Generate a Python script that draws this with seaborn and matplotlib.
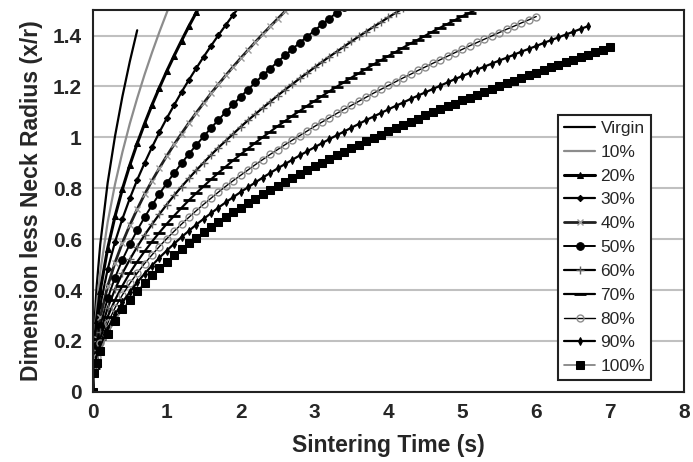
import matplotlib
matplotlib.use("Agg")
import matplotlib.pyplot as plt
import seaborn as sns
import pandas as pd

TIME = [0, 0.02, 0.05, 0.1, 0.2, 0.3, 0.4, 0.5, 0.6, 0.7, 0.8, 0.9, 1.0,
        1.1, 1.2, 1.3, 1.4, 1.5, 1.6, 1.7, 1.8, 1.9, 2.0, 2.1, 2.2, 2.3, 2.4,
        2.5, 2.6, 2.7, 2.8, 2.9, 3.0, 3.1, 3.2, 3.3, 3.4, 3.5, 3.6, 3.7, 3.8,
        3.9, 4.0, 4.1, 4.2, 4.3, 4.4, 4.5, 4.6, 4.7, 4.8, 4.9, 5.0, 5.1, 5.2,
        5.3, 5.4, 5.5, 5.6, 5.7, 5.8, 5.9, 6.0, 6.1, 6.2, 6.3, 6.4, 6.5, 6.6,
        6.7, 6.8, 6.9, 7.0]

virgin = [0, 0.259, 0.410, 0.580, 0.821, 1.005, 1.161, 1.298, 1.421]
p10 = [0, 0.211, 0.333, 0.471, 0.666, 0.816, 0.942, 1.054, 1.154, 1.247,
       1.333, 1.414, 1.490, 1.563]
p20 = [0, 0.178, 0.282, 0.398, 0.563, 0.690, 0.797, 0.891, 0.976, 1.054,
       1.127, 1.195, 1.260, 1.321, 1.380, 1.437, 1.491, 1.543]
p30 = [0, 0.152, 0.240, 0.340, 0.481, 0.589, 0.680, 0.760, 0.833, 0.899,
       0.961, 1.020, 1.075, 1.127, 1.178, 1.226, 1.272, 1.317, 1.360, 1.402,
       1.442, 1.482, 1.520]
p40 = [0, 0.131, 0.207, 0.293, 0.415, 0.508, 0.586, 0.655, 0.718, 0.776,
       0.829, 0.879, 0.927, 0.972, 1.015, 1.057, 1.097, 1.135, 1.173, 1.209,
       1.244, 1.278, 1.311, 1.343, 1.375, 1.406, 1.436, 1.466, 1.495, 1.523]
p50 = [0, 0.116, 0.183, 0.259, 0.367, 0.449, 0.519, 0.580, 0.635, 0.686,
       0.733, 0.778, 0.820, 0.860, 0.898, 0.935, 0.970, 1.004, 1.037, 1.069,
       1.100, 1.130, 1.160, 1.188, 1.216, 1.244, 1.270, 1.297, 1.322, 1.347,
       1.372, 1.396, 1.420, 1.444, 1.467, 1.490, 1.512]
p60 = [0, 0.104, 0.165, 0.233, 0.329, 0.403, 0.466, 0.520, 0.570, 0.616,
       0.658, 0.698, 0.736, 0.772, 0.806, 0.839, 0.871, 0.901, 0.931, 0.960,
       0.987, 1.014, 1.041, 1.067, 1.092, 1.116, 1.140, 1.164, 1.187, 1.209,
       1.232, 1.253, 1.275, 1.296, 1.317, 1.337, 1.357, 1.377, 1.397, 1.416,
       1.435, 1.453, 1.472, 1.490, 1.508]
p70 = [0, 0.093, 0.148, 0.209, 0.295, 0.361, 0.417, 0.467, 0.511, 0.552,
       0.590, 0.626, 0.660, 0.692, 0.723, 0.753, 0.781, 0.808, 0.835, 0.861,
       0.885, 0.910, 0.933, 0.956, 0.979, 1.001, 1.022, 1.044, 1.064, 1.085,
       1.104, 1.124, 1.143, 1.162, 1.181, 1.199, 1.217, 1.235, 1.252, 1.270,
       1.287, 1.303, 1.320, 1.336, 1.353, 1.369, 1.384, 1.400, 1.416, 1.431,
       1.446, 1.461, 1.476, 1.490, 1.505]
p80 = [0, 0.085, 0.135, 0.190, 0.269, 0.330, 0.381, 0.426, 0.466, 0.504,
       0.538, 0.571, 0.602, 0.631, 0.659, 0.686, 0.712, 0.737, 0.761, 0.785,
       0.808, 0.830, 0.851, 0.872, 0.893, 0.913, 0.933, 0.952, 0.971, 0.989,
       1.007, 1.025, 1.043, 1.060, 1.077, 1.094, 1.110, 1.126, 1.142, 1.158,
       1.174, 1.189, 1.204, 1.219, 1.234, 1.248, 1.263, 1.277, 1.291, 1.305,
       1.319, 1.333, 1.346, 1.360, 1.373, 1.386, 1.399, 1.412, 1.425, 1.437,
       1.450, 1.462, 1.475]
p90 = [0, 0.078, 0.124, 0.175, 0.248, 0.304, 0.351, 0.392, 0.430, 0.464,
       0.496, 0.527, 0.555, 0.582, 0.608, 0.633, 0.657, 0.680, 0.702, 0.724,
       0.745, 0.765, 0.785, 0.804, 0.823, 0.842, 0.860, 0.878, 0.895, 0.912,
       0.929, 0.945, 0.961, 0.977, 0.993, 1.008, 1.023, 1.038, 1.053, 1.068,
       1.082, 1.096, 1.110, 1.124, 1.137, 1.151, 1.164, 1.177, 1.190, 1.203,
       1.216, 1.229, 1.241, 1.253, 1.266, 1.278, 1.290, 1.302, 1.313, 1.325,
       1.337, 1.348, 1.359, 1.371, 1.382, 1.393, 1.404, 1.415, 1.426, 1.437]
p100 = [0, 0.072, 0.114, 0.162, 0.229, 0.280, 0.324, 0.362, 0.397, 0.428,
        0.458, 0.486, 0.512, 0.537, 0.561, 0.584, 0.606, 0.627, 0.648, 0.668,
        0.687, 0.706, 0.724, 0.742, 0.759, 0.776, 0.793, 0.810, 0.826, 0.841,
        0.857, 0.872, 0.887, 0.901, 0.916, 0.930, 0.944, 0.958, 0.971, 0.985,
        0.998, 1.011, 1.024, 1.037, 1.049, 1.062, 1.074, 1.086, 1.098, 1.110,
        1.122, 1.133, 1.145, 1.156, 1.168, 1.179, 1.190, 1.201, 1.212, 1.222,
        1.233, 1.244, 1.254, 1.265, 1.275, 1.285, 1.295, 1.305, 1.315, 1.325,
        1.335, 1.345, 1.355]

LABELS = ["Virgin", "10%", "20%", "30%", "40%", "50%", "60%", "70%", "80%", "90%", "100%"]
SERIES = [virgin, p10, p20, p30, p40, p50, p60, p70, p80, p90, p100]

X_TICKS = [0, 1, 2, 3, 4, 5, 6, 7, 8]
Y_TICKS = [0, 0.2, 0.4, 0.6, 0.8, 1.0, 1.2, 1.4]
Y_TICK_LABELS = ["0", "0.2", "0.4", "0.6", "0.8", "1", "1.2", "1.4"]

STYLES = [
    dict(color="black", lw=1.6, marker=None),
    dict(color="#8c8c8c", lw=1.6, marker=None),
    dict(color="black", lw=2.2, marker="^", ms=4.5, mfc="black", mec="black"),
    dict(color="black", lw=1.6, marker="D", ms=3.2, mfc="black", mec="black"),
    dict(color="#202020", lw=2.0, marker="x", ms=4, mec="#9a9a9a", mew=1.0),
    dict(color="black", lw=1.4, marker="o", ms=5.5, mfc="black", mec="black"),
    dict(color="black", lw=1.6, marker="+", ms=6, mec="#606060", mew=1.0),
    dict(color="black", lw=1.6, marker="_", ms=8, mec="black", mew=2.0),
    dict(color="black", lw=1.0, marker="o", ms=5, mfc="none", mec="#8c8c8c", mew=1.0),
    dict(color="black", lw=1.6, marker="d", ms=4, mfc="black", mec="black"),
    dict(color="#7a7a7a", lw=1.2, marker="s", ms=5.5, mfc="black", mec="black"),
]

sns.set_style("white")
plt.rcParams["font.family"] = ["Liberation Sans", "DejaVu Sans"]

fig = plt.figure(figsize=(6.93, 4.62), dpi=100)
ax = fig.add_axes([0.134, 0.152, 0.853, 0.826])

for label, ys, st in zip(LABELS, SERIES, STYLES):
    df = pd.DataFrame({"t": TIME[:len(ys)], "y": ys})
    sns.lineplot(data=df, x="t", y="y", ax=ax, label=label, sort=False,
                 estimator=None, **st)

ax.set_xlim(0, 8)
ax.set_ylim(0, 1.5)
ax.set_xticks(X_TICKS)
ax.set_xticklabels([str(v) for v in X_TICKS])
ax.set_yticks(Y_TICKS)
ax.set_yticklabels(Y_TICK_LABELS)
ax.yaxis.grid(True, color="#c0c0c0", lw=1.5)
ax.xaxis.grid(False)
ax.set_axisbelow(True)
for s in ax.spines.values():
    s.set_visible(True)
    s.set_color("#222222")
    s.set_linewidth(1.5)
ax.tick_params(axis="both", direction="out", length=5, width=1.3, color="#222222",
               labelsize=15, pad=3)
for lab in ax.get_xticklabels() + ax.get_yticklabels():
    lab.set_fontweight("bold")
ax.set_xlabel("Sintering Time (s)", fontsize=16.5, fontweight="bold", labelpad=9)
ax.set_ylabel("Dimension less Neck Radius (x/r)", fontsize=16.5, fontweight="bold", labelpad=7)

leg = ax.legend(loc="upper left", bbox_to_anchor=(0.787, 0.726), fontsize=12.5,
                frameon=True, fancybox=False, framealpha=1, edgecolor="#222222",
                labelspacing=0.5, handlelength=1.8, handletextpad=0.3,
                borderpad=0.35, borderaxespad=0)
leg.get_frame().set_linewidth(1.5)

fig.savefig("out.png", dpi=100)
